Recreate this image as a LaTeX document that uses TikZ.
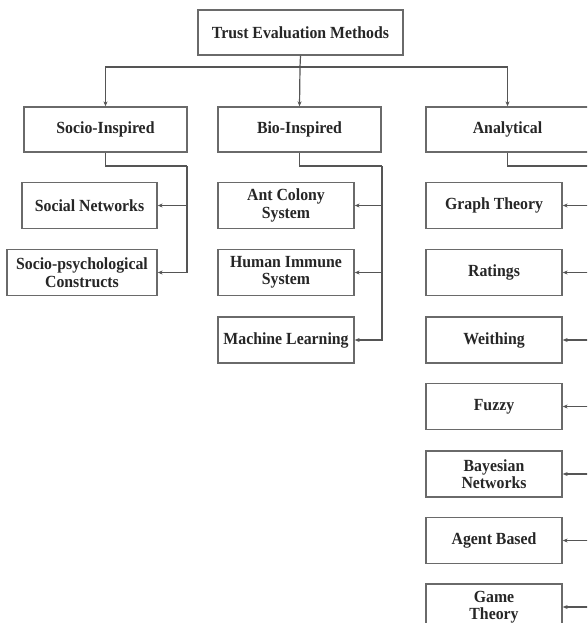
\documentclass[tikz,border=0pt]{standalone}
\usepackage{fontspec}
\setmainfont{Liberation Serif}[FakeStretch=0.93]
\usetikzlibrary{arrows.meta}
\definecolor{boxline}{HTML}{6A6A6A}
\definecolor{linecol}{HTML}{555555}
\definecolor{txt}{HTML}{262626}
\begin{document}
\begin{tikzpicture}[x=1pt,y=-1pt,
  box/.style={draw=boxline, line width=1.3pt, fill=white, inner sep=0pt, text=txt,
    font=\bfseries\fontsize{17}{17.5}\selectfont, align=center, minimum height=46pt},
  conn/.style={draw=linecol, line width=1.2pt},
  arr/.style={conn, -{Stealth[length=5pt,width=4pt]}}]
\useasboundingbox (0,0) rectangle (587,623);
\clip (0,0) rectangle (587,623);
\fill[white] (0,0) rectangle (587,623);
% top
\node[box, minimum width=205pt, minimum height=45pt] (top) at (300.5,32.5) {Trust Evaluation Methods};
% level 2
\node[box, minimum width=163pt, minimum height=45pt] (socio) at (105.5,129.5) {Socio-Inspired};
\node[box, minimum width=163pt, minimum height=45pt] (bio) at (299.5,129.5) {Bio-Inspired};
\node[box, minimum width=163pt, minimum height=45pt] (ana) at (507.5,129.5) {Analytical};
% socio children
\node[box, minimum width=135pt] (sn) at (89.5,205.5) {Social Networks};
\node[box, minimum width=150pt] (sp) at (82,272.5) {Socio-psychological\\Constructs};
% bio children
\node[box, minimum width=136pt] (ac) at (286,205.5) {Ant Colony\\System};
\node[box, minimum width=136pt] (hi) at (286,272.5) {Human Immune\\System};
\node[box, minimum width=136pt] (ml) at (286,340) {Machine Learning};
% analytical children
\node[box, minimum width=136pt] (gt) at (494,205.5) {Graph Theory};
\node[box, minimum width=136pt] (ra) at (494,272.5) {Ratings};
\node[box, minimum width=136pt] (we) at (494,340) {Weithing};
\node[box, minimum width=136pt] (fu) at (494,406.5) {Fuzzy};
\node[box, minimum width=136pt] (bn) at (494,474) {Bayesian\\Networks};
\node[box, minimum width=136pt] (ab) at (494,540.5) {Agent Based};
\node[box, minimum width=136pt] (gm) at (494,607) {Game\\Theory};
% top connectors
\coordinate (tj) at (300,67);
\draw[conn] (top.south) -- (tj);
\draw[arr] (tj) -| (socio.north);
\draw[arr] (tj) -- (bio.north);
\draw[arr] (tj) -| (ana.north);
% socio connectors
\coordinate (sj) at (187,166);
\draw[conn] (socio.south) |- (sj);
\draw[arr] (sj) |- (sn.east);
\draw[arr] (sj) |- (sp.east);
% bio connectors
\coordinate (bj) at (382,166);
\draw[conn] (bio.south) |- (bj);
\draw[arr] (bj) |- (ac.east);
\draw[arr] (bj) |- (hi.east);
\draw[arr] (bj) |- (ml.east);
% analytical connectors
\coordinate (aj) at (590,166);
\draw[conn] (ana.south) |- (aj);
\draw[arr] (aj) |- (gt.east);
\draw[arr] (aj) |- (ra.east);
\draw[arr] (aj) |- (we.east);
\draw[arr] (aj) |- (fu.east);
\draw[arr] (aj) |- (bn.east);
\draw[arr] (aj) |- (ab.east);
\draw[arr] (aj) |- (gm.east);
\end{tikzpicture}
\end{document}
